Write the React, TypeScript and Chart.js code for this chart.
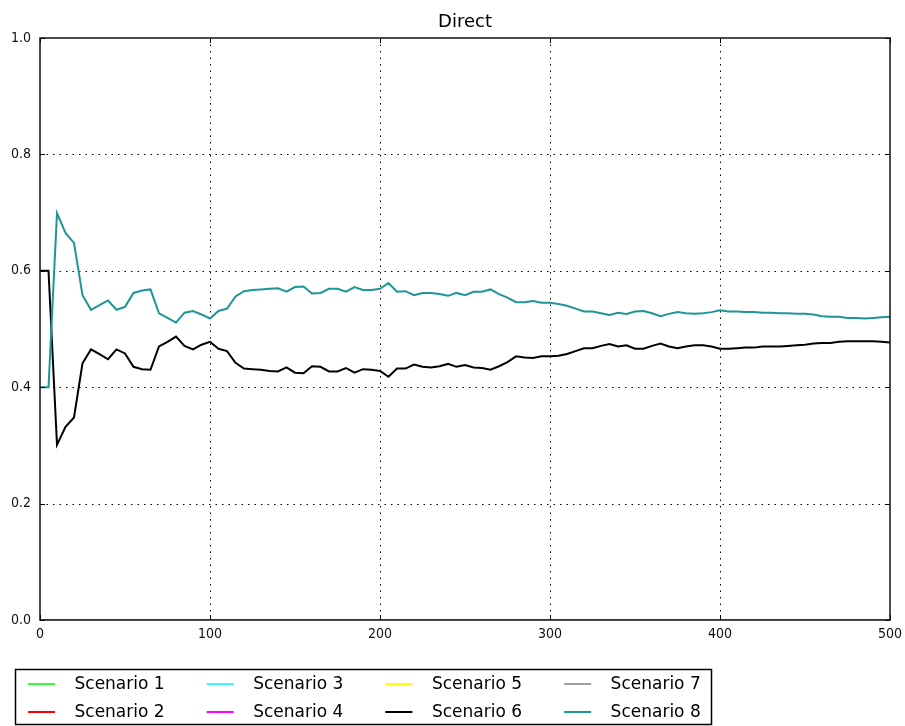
import React, { useEffect, useRef } from "react";
import { Chart, registerables } from "chart.js";

Chart.register(...registerables);

const chartTitle = "Direct";

const steps = [
  0, 5, 10, 15, 20, 25, 30, 35, 40, 45,
  50, 55, 60, 65, 70, 75, 80, 85, 90, 95,
  100, 105, 110, 115, 120, 125, 130, 135, 140, 145,
  150, 155, 160, 165, 170, 175, 180, 185, 190, 195,
  200, 205, 210, 215, 220, 225, 230, 235, 240, 245,
  250, 255, 260, 265, 270, 275, 280, 285, 290, 295,
  300, 305, 310, 315, 320, 325, 330, 335, 340, 345,
  350, 355, 360, 365, 370, 375, 380, 385, 390, 395,
  400, 405, 410, 415, 420, 425, 430, 435, 440, 445,
  450, 455, 460, 465, 470, 475, 480, 485, 490, 495,
  500,
];

const scenario6 = [
  0.600, 0.600, 0.301, 0.332, 0.348, 0.441, 0.465, 0.457, 0.448, 0.465,
  0.458, 0.435, 0.431, 0.430, 0.470, 0.478, 0.487, 0.471, 0.465, 0.473,
  0.478, 0.466, 0.462, 0.442, 0.432, 0.431, 0.430, 0.428, 0.427, 0.434,
  0.425, 0.424, 0.436, 0.435, 0.427, 0.427, 0.433, 0.425, 0.431, 0.430,
  0.428, 0.418, 0.432, 0.432, 0.439, 0.435, 0.434, 0.436, 0.440, 0.435,
  0.438, 0.434, 0.433, 0.430, 0.436, 0.443, 0.453, 0.451, 0.450, 0.453,
  0.453, 0.454, 0.457, 0.462, 0.467, 0.467, 0.471, 0.474, 0.470, 0.472,
  0.466, 0.466, 0.471, 0.475, 0.470, 0.467, 0.470, 0.472, 0.472, 0.470,
  0.466, 0.466, 0.467, 0.468, 0.468, 0.470, 0.470, 0.470, 0.471, 0.472,
  0.473, 0.475, 0.476, 0.476, 0.478, 0.479, 0.479, 0.479, 0.479, 0.478,
  0.477,
];

const scenario8 = [
  0.400, 0.400, 0.699, 0.665, 0.648, 0.558, 0.533, 0.541, 0.549, 0.533,
  0.538, 0.562, 0.566, 0.568, 0.527, 0.519, 0.511, 0.528, 0.531, 0.525,
  0.518, 0.531, 0.535, 0.556, 0.565, 0.567, 0.568, 0.569, 0.570, 0.564,
  0.572, 0.573, 0.561, 0.562, 0.569, 0.569, 0.564, 0.572, 0.567, 0.567,
  0.569, 0.579, 0.564, 0.565, 0.558, 0.562, 0.562, 0.560, 0.557, 0.562,
  0.558, 0.564, 0.564, 0.568, 0.560, 0.554, 0.546, 0.546, 0.548, 0.545,
  0.545, 0.543, 0.540, 0.535, 0.530, 0.530, 0.527, 0.524, 0.528, 0.526,
  0.530, 0.531, 0.527, 0.522, 0.526, 0.529, 0.527, 0.526, 0.527, 0.529,
  0.532, 0.530, 0.530, 0.529, 0.529, 0.528, 0.528, 0.527, 0.527, 0.526,
  0.526, 0.525, 0.522, 0.521, 0.521, 0.519, 0.519, 0.518, 0.519, 0.520,
  0.521,
];

// Flat series (all zero over the whole range)
const flatSteps = [0, 500];
const scenario1 = [0, 0];
const scenario2 = [0, 0];
const scenario3 = [0, 0];
const scenario4 = [0, 0];
const scenario5 = [0, 0];
const scenario7 = [0, 0];

const seriesNames = [
  "Scenario 1", "Scenario 2", "Scenario 3", "Scenario 4",
  "Scenario 5", "Scenario 6", "Scenario 7", "Scenario 8",
];
const seriesColors = [
  "#33ff33", "#ff0000", "#33ffff", "#ff00ff",
  "#ffff00", "#000000", "#a0a0a0", "#1f9696",
];
const seriesX = [flatSteps, flatSteps, flatSteps, flatSteps, flatSteps, steps, flatSteps, steps];
const seriesY = [scenario1, scenario2, scenario3, scenario4, scenario5, scenario6, scenario7, scenario8];

const xTickValues = [0, 100, 200, 300, 400, 500];
const yTickValues = [0, 0.2, 0.4, 0.6, 0.8, 1.0];

const TEXT_FONT = "'DejaVu Sans', sans-serif";

const framePlugin = {
  id: "mplFrame",
  beforeDatasetsDraw(chart: any) {
    const { ctx, chartArea: a, scales } = chart;
    ctx.save();
    ctx.strokeStyle = "#000";
    ctx.lineWidth = 1;
    ctx.setLineDash([1.5, 5]);
    xTickValues.slice(1, -1).forEach((v) => {
      const x = Math.round(scales.x.getPixelForValue(v)) + 0.5;
      ctx.beginPath();
      ctx.moveTo(x, a.top);
      ctx.lineTo(x, a.bottom);
      ctx.stroke();
    });
    yTickValues.slice(1, -1).forEach((v) => {
      const y = Math.round(scales.y.getPixelForValue(v)) + 0.5;
      ctx.beginPath();
      ctx.moveTo(a.left, y);
      ctx.lineTo(a.right, y);
      ctx.stroke();
    });
    ctx.restore();
  },
  afterDatasetsDraw(chart: any) {
    const { ctx, chartArea: a, scales } = chart;
    ctx.save();
    ctx.strokeStyle = "#000";
    ctx.lineWidth = 1;
    const t = 5;
    xTickValues.forEach((v) => {
      const x = Math.round(scales.x.getPixelForValue(v)) + 0.5;
      ctx.beginPath();
      ctx.moveTo(x, a.bottom);
      ctx.lineTo(x, a.bottom - t);
      ctx.moveTo(x, a.top);
      ctx.lineTo(x, a.top + t);
      ctx.stroke();
    });
    yTickValues.forEach((v) => {
      const y = Math.round(scales.y.getPixelForValue(v)) + 0.5;
      ctx.beginPath();
      ctx.moveTo(a.left, y);
      ctx.lineTo(a.left + t, y);
      ctx.moveTo(a.right, y);
      ctx.lineTo(a.right - t, y);
      ctx.stroke();
    });
    ctx.lineWidth = 1.5;
    ctx.strokeStyle = "#111";
    ctx.strokeRect(a.left, a.top, a.right - a.left, a.bottom - a.top);
    ctx.restore();
  },
  afterDraw(chart: any) {
    const { ctx, chartArea: a } = chart;
    ctx.save();
    // Title
    ctx.fillStyle = "#000";
    ctx.font = `18px ${TEXT_FONT}`;
    ctx.textAlign = "center";
    ctx.textBaseline = "alphabetic";
    ctx.fillText(chartTitle, (a.left + a.right) / 2, 27);

    // Legend box
    const boxL = 15.5, boxT = 669.5, boxR = 711.5, boxB = 724.5;
    ctx.fillStyle = "#fff";
    ctx.fillRect(boxL, boxT, boxR - boxL, boxB - boxT);
    ctx.strokeStyle = "#000";
    ctx.lineWidth = 1.5;
    ctx.strokeRect(boxL, boxT, boxR - boxL, boxB - boxT);

    ctx.font = `17px ${TEXT_FONT}`;
    ctx.textAlign = "left";
    ctx.textBaseline = "middle";
    const rowY = [684, 712];
    const colStart = 28;
    const colGap = 178.7;
    seriesNames.forEach((name, i) => {
      const col = Math.floor(i / 2);
      const row = i % 2;
      const x0 = colStart + col * colGap;
      const y = rowY[row];
      ctx.strokeStyle = seriesColors[i];
      ctx.lineWidth = 2;
      ctx.beginPath();
      ctx.moveTo(x0, y);
      ctx.lineTo(x0 + 27, y);
      ctx.stroke();
      ctx.fillStyle = "#000";
      ctx.fillText(name, x0 + 46.5, y + 1);
    });
    ctx.restore();
  },
};

export default function App() {
  const canvasRef = useRef<HTMLCanvasElement | null>(null);

  useEffect(() => {
    if (!canvasRef.current) return;
    const datasets = seriesNames.map((name, i) => ({
      label: name,
      data: seriesX[i].map((x, k) => ({ x, y: seriesY[i][k] })),
      borderColor: seriesColors[i],
      backgroundColor: seriesColors[i],
      borderWidth: 2,
      pointRadius: 0,
      tension: 0,
      fill: false,
      order: seriesNames.length - 1 - i,
    }));

    const chart = new Chart(canvasRef.current, {
      type: "line",
      data: { datasets },
      options: {
        animation: false,
        responsive: false,
        maintainAspectRatio: false,
        layout: { padding: { left: 0, right: 15, top: 38, bottom: 0 } },
        plugins: {
          legend: { display: false },
          title: { display: false },
          tooltip: { enabled: false },
        },
        scales: {
          x: {
            type: "linear",
            min: 0,
            max: 500,
            afterFit: (scale: any) => {
              scale.height = 106;
              scale.paddingLeft = 0;
              scale.paddingRight = 0;
            },
            afterBuildTicks: (scale: any) => {
              scale.ticks = xTickValues.map((v) => ({ value: v }));
            },
            grid: { display: false, drawTicks: false },
            border: { display: false },
            ticks: {
              color: "#111",
              font: { family: "'DejaVu Sans Condensed', 'DejaVu Sans', sans-serif", size: 14 },
              padding: 6,
              maxRotation: 0,
              autoSkip: false,
              callback: (v: any) => String(v),
            },
          },
          y: {
            type: "linear",
            min: 0,
            max: 1,
            afterFit: (scale: any) => {
              scale.width = 40;
              scale.paddingTop = 0;
              scale.paddingBottom = 0;
            },
            afterBuildTicks: (scale: any) => {
              scale.ticks = yTickValues.map((v) => ({ value: v }));
            },
            grid: { display: false, drawTicks: false },
            border: { display: false },
            ticks: {
              color: "#111",
              font: { family: "'DejaVu Sans Condensed', 'DejaVu Sans', sans-serif", size: 14 },
              padding: 9,
              autoSkip: false,
              callback: (v: any) => Number(v).toFixed(1),
            },
          },
        },
      },
      plugins: [framePlugin],
    });
    return () => chart.destroy();
  }, []);

  return (
    <div style={{ position: "absolute", left: 0, top: 0, width: 905, height: 726, background: "#fff" }}>
      <canvas ref={canvasRef} width={905} height={726} style={{ display: "block" }} />
    </div>
  );
}
